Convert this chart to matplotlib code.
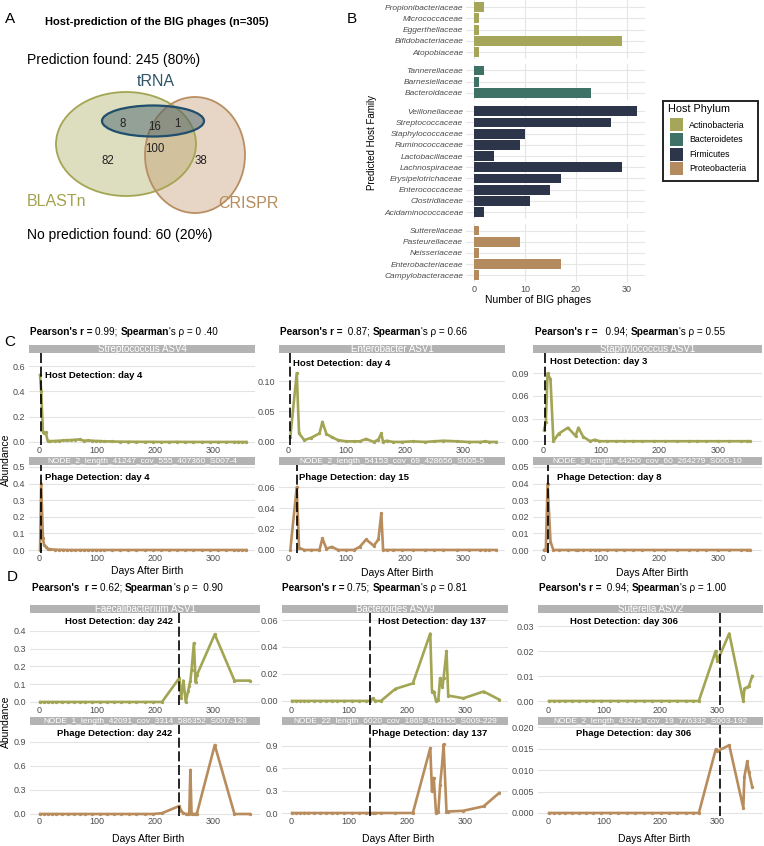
import matplotlib
matplotlib.use('Agg')
import matplotlib.pyplot as plt
from matplotlib.patches import Ellipse, Rectangle

plt.rcParams['font.family'] = ['Liberation Sans', 'DejaVu Sans']

# ---------------- data: panel A ----------------
n_total = 305
n_found = 245
n_not_found = 60
venn_blast_only = 82
venn_crispr_only = 38
venn_blast_crispr = 100
venn_trna_blast = 8
venn_trna_all = 16
venn_trna_crispr = 1

# ---------------- data: panel B ----------------
phyla = ['Actinobacteria', 'Bacteroidetes', 'Firmicutes', 'Proteobacteria']
phylum_colors = ['#a5a65a', '#3e7267', '#2c3549', '#b48b5e']
fam_actino = ['Propionibacteriaceae', 'Micrococcaceae', 'Eggerthellaceae', 'Bifidobacteriaceae', 'Atopobiaceae']
cnt_actino = [2, 1, 1, 29, 1]
fam_bacteroid = ['Tannerellaceae', 'Barnesiellaceae', 'Bacteroidaceae']
cnt_bacteroid = [2, 1, 23]
fam_firm = ['Veillonellaceae', 'Streptococcaceae', 'Staphylococcaceae', 'Ruminococcaceae', 'Lactobacillaceae',
            'Lachnospiraceae', 'Erysipelotrichaceae', 'Enterococcaceae', 'Clostridiaceae', 'Acidaminococcaceae']
cnt_firm = [32, 27, 10, 9, 4, 29, 17, 15, 11, 2]
fam_proteo = ['Sutterellaceae', 'Pasteurellaceae', 'Neisseriaceae', 'Enterobacteriaceae', 'Campylobacteraceae']
cnt_proteo = [1, 9, 1, 17, 1]

# ---------------- data: panels C / D ----------------
c1_host_name = 'Streptococcus ASV4'
c1_phage_name = 'NODE_2_length_41247_cov_555_407360_S007-4'
c1_days = [2, 4, 7, 9, 12, 15, 20, 28, 35, 42, 49, 56, 63, 70, 77, 84, 91, 98, 105, 112,
           126, 140, 154, 168, 182, 196, 210, 224, 238, 252, 266, 280, 294, 308, 322, 336, 343, 350, 357]
c1_host = [0.53, 0.40, 0.08, 0.07, 0.075, 0.010, 0.006, 0.008, 0.010, 0.012, 0.014, 0.015, 0.018, 0.020, 0.010,
           0.012, 0.010, 0.008, 0.007, 0.005, 0.004, 0.002, 0.002, 0.001, 0.001, 0.001, 0.0, 0.0, 0.001, 0.0,
           0.0, 0.0, 0.0, 0.0, 0.0, 0.0, 0.0, 0.0, 0.0]
c1_phage = [0.0, 0.40, 0.07, 0.03, 0.02, 0.008, 0.004, 0.002, 0.001, 0.001, 0.0, 0.0, 0.0, 0.0, 0.0,
            0.0, 0.0, 0.0, 0.0, 0.0, 0.0, 0.0, 0.0, 0.0, 0.0, 0.0, 0.0, 0.0, 0.0, 0.0,
            0.0, 0.0, 0.0, 0.0, 0.0, 0.0, 0.0, 0.0, 0.0]
c1_stats = ("0.99", "0 .40")
c1_host_day, c1_phage_day = 4, 4

c2_host_name = 'Enterobacter ASV1'
c2_phage_name = 'NODE_2_length_54153_cov_69_428656_S005-5'
c2_days = [4, 15, 19, 28, 40, 54, 59, 66, 75, 86, 100, 113, 123, 134, 147, 155, 160, 163, 169, 180,
           195, 214, 235, 250, 266, 290, 310, 330, 338, 345, 357]
c2_host = [0.008, 0.113, 0.014, 0.003, 0.007, 0.014, 0.033, 0.013, 0.008, 0.003, 0.001, 0.001, 0.001, 0.005, 0.0,
           0.004, 0.014, 0.0, 0.002, 0.0, 0.0, 0.001, 0.0, 0.001, 0.002, 0.001, 0.0, 0.0, 0.001, 0.0, 0.0]
c2_phage = [0.0, 0.060, 0.002, 0.0, 0.0, 0.0, 0.011, 0.001, 0.003, 0.0, 0.0, 0.0, 0.003, 0.010, 0.004,
            0.010, 0.035, 0.0, 0.0, 0.0, 0.0, 0.0, 0.0, 0.0, 0.0, 0.0, 0.0, 0.0, 0.0, 0.0, 0.0]
c2_stats = (" 0.87", "0.66")
c2_host_day, c2_phage_day = 4, 15

c3_host_name = 'Staphylococcus ASV1'
c3_phage_name = 'NODE_3_length_44250_cov_60_264279_S006-10'
c3_days = [2, 5, 8, 13, 18, 27, 43, 56, 61, 69, 81, 89, 97, 110, 125, 140, 155, 170, 190, 210,
           230, 250, 265, 280, 300, 320, 340, 350, 355]
c3_host = [0.015, 0.026, 0.090, 0.082, 0.0, 0.010, 0.018, 0.007, 0.018, 0.006, 0.0, 0.002, 0.0, 0.0, 0.0,
           0.0, 0.0, 0.0, 0.0, 0.0, 0.0, 0.0, 0.0, 0.0, 0.0, 0.0, 0.0, 0.0, 0.0]
c3_phage = [0.0, 0.0, 0.040, 0.005, 0.0, 0.0, 0.0, 0.0, 0.0, 0.0, 0.0, 0.0, 0.0, 0.0, 0.0,
            0.0, 0.0, 0.0, 0.0, 0.0, 0.0, 0.0, 0.0, 0.0, 0.0, 0.0, 0.0, 0.0, 0.0]
c3_stats = ("  0.94", "0.55")
c3_host_day, c3_phage_day = 3, 8

d1_host_name = 'Faecalibacterium ASV1'
d1_phage_name = 'NODE_1_length_42091_cov_3314_586352_S007-128'
d1_days = [2, 8, 15, 22, 30, 40, 50, 60, 70, 80, 92, 105, 118, 130, 142, 155, 168, 182, 196, 212,
           242, 245, 249, 253, 257, 259, 261, 263, 267, 270, 272, 303, 337, 363]
d1_host = [0.0, 0.0, 0.0, 0.0, 0.0, 0.0, 0.0, 0.0, 0.0, 0.0, 0.0, 0.0, 0.0, 0.0, 0.0, 0.0, 0.0, 0.0, 0.0, 0.0,
           0.135, 0.02, 0.12, 0.0, 0.06, 0.09, 0.12, 0.18, 0.33, 0.11, 0.15, 0.38, 0.12, 0.12]
d1_phage = [0.0, 0.0, 0.0, 0.0, 0.0, 0.0, 0.0, 0.0, 0.0, 0.0, 0.0, 0.0, 0.0, 0.0, 0.0, 0.0, 0.0, 0.0, 0.0, 0.01,
            0.10, 0.04, 0.01, 0.0, 0.0, 0.0, 0.55, 0.0, 0.0, 0.0, 0.0, 0.86, 0.0, 0.0]
d1_stats = ("0.62", " 0.90")
d1_host_day, d1_phage_day = 242, 242

d2_host_name = 'Bacteroides ASV9'
d2_phage_name = 'NODE_22_length_6020_cov_1869_946155_S009-229'
d2_days = [2, 8, 15, 22, 30, 40, 50, 60, 70, 80, 92, 105, 118, 130,
           137, 141, 145, 155, 180, 210, 240, 243, 246, 250, 254, 257, 261, 263, 268, 271, 297, 332, 359]
d2_host = [0.0, 0.0, 0.0, 0.0, 0.0, 0.0, 0.0, 0.0, 0.0, 0.0, 0.0, 0.0, 0.0, 0.0,
           0.0, 0.002, 0.0, 0.0, 0.009, 0.013, 0.050, 0.007, 0.007, 0.0, 0.001, 0.017, 0.010, 0.017, 0.037,
           0.004, 0.002, 0.007, 0.001]
d2_phage = [0.0, 0.0, 0.0, 0.0, 0.0, 0.0, 0.0, 0.0, 0.0, 0.0, 0.0, 0.0, 0.0, 0.0,
            0.0, 0.0, 0.0, 0.0, 0.0, 0.0, 0.87, 0.29, 0.47, 0.0, 0.02, 0.38, 0.70, 0.92, 0.02,
            0.02, 0.03, 0.09, 0.27]
d2_stats = ("0.75", "0.81")
d2_host_day, d2_phage_day = 137, 137

d3_host_name = 'Suterella ASV2'
d3_phage_name = 'NODE_2_length_43275_cov_19_776332_S003-192'
d3_days = [2, 10, 20, 30, 42, 55, 68, 80, 95, 110, 125, 140, 155, 170, 185, 200, 215, 230, 245, 258, 268,
           298, 301, 322, 347, 349, 354, 357, 363]
d3_host = [0.0, 0.0, 0.0, 0.0, 0.0, 0.0, 0.0, 0.0, 0.0, 0.0, 0.0, 0.0, 0.0, 0.0, 0.0, 0.0, 0.0, 0.0, 0.0, 0.0, 0.0,
           0.020, 0.016, 0.027, 0.0, 0.005, 0.0055, 0.006, 0.010]
d3_phage = [0.0, 0.0, 0.0, 0.0, 0.0, 0.0, 0.0, 0.0, 0.0, 0.0, 0.0, 0.0, 0.0, 0.0, 0.0, 0.0, 0.0, 0.0, 0.0, 0.0, 0.0,
            0.0148, 0.0144, 0.0158, 0.0012, 0.0085, 0.012, 0.0095, 0.006]
d3_stats = (" 0.94", "1.00")
d3_host_day, d3_phage_day = 306, 306

# ---------------- style ----------------
HOST_COLOR = '#a2a553'
PHAGE_COLOR = '#b88c5c'
STRIP = '#b3b3b3'
GRID = '#e3e3e3'
TICKC = '#4d4d4d'

W, H = 764, 846
fig = plt.figure(figsize=(W / 100, H / 100), dpi=100)


def add_ax(l, t, r, b):
    return fig.add_axes([l / W, 1 - b / H, (r - l) / W, (b - t) / H])


# ---------------- panel B (bars) ----------------
groups = [(fam_actino, cnt_actino), (fam_bacteroid, cnt_bacteroid), (fam_firm, cnt_firm), (fam_proteo, cnt_proteo)]
row_h, gap, top = 11.2, 5.0, 0.5
bl, br = 466, 645
for gi, (fams, cnts) in enumerate(groups):
    h = (len(fams) + 0.2) * row_h
    ax = add_ax(bl, top, br, top + h)
    ypos = list(range(len(fams)))
    ax.barh(ypos, cnts, height=0.88, color=phylum_colors[gi], zorder=3)
    ax.set_ylim(len(fams) - 0.4, -0.6)
    ax.set_xlim(-1.6, 33.6)
    ax.set_yticks(ypos)
    ax.set_yticklabels(fams, fontsize=6, fontstyle='italic', color=TICKC)
    ax.set_xticks([0, 10, 20, 30])
    ax.grid(True, color='#e6e6e6', lw=0.8, zorder=0)
    ax.tick_params(length=0, pad=2)
    for sp in ax.spines.values():
        sp.set_visible(False)
    if gi < len(groups) - 1:
        ax.set_xticklabels([])
    else:
        ax.set_xticklabels(['0', '10', '20', '30'], fontsize=6.5, color=TICKC)
    top += h + gap


# ---------------- time series panels ----------------
def ts_panel(l, r, t, b, days, vals, color, ylim, yticks, fmt, det_day, xlim):
    ax = add_ax(l, t, r, b)
    ax.plot(days, vals, color=color, lw=1.9, marker='o', ms=1.4, zorder=3, solid_joinstyle='round')
    ax.axvline(det_day, color='black', lw=1.2, ls=(0, (6, 2.2)), zorder=4)
    ax.set_xlim(*xlim)
    ax.set_ylim(*ylim)
    ax.set_yticks(yticks)
    ax.set_yticklabels([fmt % v for v in yticks])
    ax.set_xticks([0, 100, 200, 300])
    ax.set_xticklabels(['0', '100', '200', '300'])
    ax.tick_params(length=0, labelsize=6.5, labelcolor=TICKC)
    ax.tick_params(axis='x', pad=0.5)
    ax.tick_params(axis='y', pad=3)
    ax.grid(axis='y', color=GRID, lw=0.8, zorder=0)
    for sp in ax.spines.values():
        sp.set_visible(False)
    ax.set_facecolor('none')
    return ax


panels = [
    (29, 255, 353, 445, 465, 553, c1_days, c1_host, c1_phage, (-0.024, 0.704), [0, 0.2, 0.4, 0.6], '%.1f',
     (-0.018, 0.512), [0, 0.1, 0.2, 0.3, 0.4, 0.5], '%.1f', c1_host_day, c1_phage_day, (-17, 372)),
    (279, 505, 353, 445, 465, 553, c2_days, c2_host, c2_phage, (-0.005, 0.146), [0, 0.05, 0.10], '%.2f',
     (-0.0029, 0.081), [0, 0.02, 0.04, 0.06], '%.2f', c2_host_day, c2_phage_day, (-15.4, 372)),
    (533, 762, 353, 445, 465, 553, c3_days, c3_host, c3_phage, (-0.005, 0.117), [0, 0.03, 0.06, 0.09], '%.2f',
     (-0.0018, 0.0512), [0, 0.01, 0.02, 0.03, 0.04, 0.05], '%.2f', c3_host_day, c3_phage_day, (-17, 376)),
    (30, 260, 613, 705, 725, 816, d1_days, d1_host, d1_phage, (-0.017, 0.50), [0, 0.1, 0.2, 0.3, 0.4], '%.1f',
     (-0.025, 1.11), [0, 0.3, 0.6, 0.9], '%.1f', d1_host_day, d1_phage_day, (-15.5, 381)),
    (282, 508, 613, 705, 725, 816, d2_days, d2_host, d2_phage, (-0.003, 0.0652), [0, 0.02, 0.04, 0.06], '%.2f',
     (-0.04, 1.18), [0, 0.3, 0.6, 0.9], '%.1f', d2_host_day, d2_phage_day, (-15.5, 374)),
    (538, 763, 613, 705, 725, 816, d3_days, d3_host, d3_phage, (-0.0016, 0.0352), [0, 0.01, 0.02, 0.03], '%.2f',
     (-0.0007, 0.0205), [0, 0.005, 0.010, 0.015, 0.020], '%.3f', d3_host_day, d3_phage_day, (-17.7, 382)),
]
for p in panels:
    (l, r, ht, hb, pt, pb, days, hv, pv, ylh, yth, fh, ylp, ytp, fp, hd, pd, xl) = p
    ts_panel(l, r, ht, hb, days, hv, HOST_COLOR, ylh, yth, fh, hd, xl)
    ts_panel(l, r, pt, pb, days, pv, PHAGE_COLOR, ylp, ytp, fp, pd, xl)

# ---------------- overlay (text, venn, legend, strips) ----------------
ov = fig.add_axes([0, 0, 1, 1])
ov.set_xlim(0, W)
ov.set_ylim(H, 0)
ov.axis('off')
ov.patch.set_alpha(0)
fig.canvas.draw()
renderer = fig.canvas.get_renderer()


def text_width(s, size, weight):
    t1 = ov.text(0, 0, s + '|', fontsize=size, fontweight=weight)
    t2 = ov.text(0, 0, '|', fontsize=size, fontweight=weight)
    w = t1.get_window_extent(renderer).width - t2.get_window_extent(renderer).width
    t1.remove()
    t2.remove()
    return w


def rich(x, y, parts, size):
    cur = x
    for s, w in parts:
        ov.text(cur, y, s, fontsize=size, fontweight=w, ha='left', va='center')
        cur += text_width(s, size, w)


# panel letters
for letter, (x, y) in zip('ABCD', [(10, 19), (352, 19), (10, 342), (12, 577)]):
    ov.text(x, y, letter, fontsize=11, ha='center', va='center')

# ---- panel A: venn ----
ov.text(157, 22, f'Host-prediction of the BIG phages (n={n_total})', fontsize=8, fontweight='bold',
        ha='center', va='center')
ov.text(27, 60, f'Prediction found: {n_found} ({round(100 * n_found / n_total)}%)', fontsize=10,
        ha='left', va='center')
ov.text(27, 235, f'No prediction found: {n_not_found} ({round(100 * n_not_found / n_total)}%)', fontsize=10,
        ha='left', va='center')
ov.add_patch(Ellipse((126, 144), 140, 104, facecolor='#a6a658', alpha=0.38, edgecolor='none'))
ov.add_patch(Ellipse((195, 155), 100, 116, facecolor='#c09468', alpha=0.38, edgecolor='none'))
ov.add_patch(Ellipse((126, 144), 140, 104, facecolor='none', edgecolor='#a4a552', lw=1.3))
ov.add_patch(Ellipse((195, 155), 100, 116, facecolor='none', edgecolor='#b88e62', lw=1.3))
ov.add_patch(Ellipse((153, 121), 102, 31, facecolor='#3b5866', alpha=0.45, edgecolor='none'))
ov.add_patch(Ellipse((153, 121), 102, 31, facecolor='none', edgecolor='#1f4f6c', lw=1.6))
ov.text(156, 82, 'tRNA', fontsize=11.5, color='#2e5568', ha='center', va='center')
ov.text(57, 202, 'BLASTn', fontsize=11.5, color='#a3a34f', ha='center', va='center')
ov.text(248, 204, 'CRISPR', fontsize=11.5, color='#b88c5c', ha='center', va='center')
for val, (x, y) in [(venn_trna_blast, (123, 124)), (venn_trna_all, (155, 127)), (venn_trna_crispr, (177, 124)),
                    (venn_blast_crispr, (155, 149)), (venn_blast_only, (108, 161)), (venn_crispr_only, (201, 161))]:
    ov.text(x, y, str(val), fontsize=8.3, color='#222222', ha='center', va='center')

# ---- panel B labels + legend ----
ov.text(372, 142, 'Predicted Host Family', fontsize=7, rotation=90, ha='center', va='center')
ov.text(538, 300, 'Number of BIG phages', fontsize=7.5, ha='center', va='center')
ov.add_patch(Rectangle((663, 101), 95, 80, facecolor='white', edgecolor='#222222', lw=1.4))
ov.text(668, 109, 'Host Phylum', fontsize=7.8, ha='left', va='center')
for i, (ph, col) in enumerate(zip(phyla, phylum_colors)):
    yc = 125 + i * 14.6
    ov.add_patch(Rectangle((670, yc - 6.5), 13, 13, facecolor=col, edgecolor='none'))
    ov.text(689, yc, ph, fontsize=6.3, ha='left', va='center')

# ---- strips, stats, detection labels ----
strip_specs = [
    (29, 255, 345, 353, c1_host_name, 457, 465, c1_phage_name),
    (279, 505, 345, 353, c2_host_name, 457, 465, c2_phage_name),
    (533, 762, 345, 353, c3_host_name, 457, 465, c3_phage_name),
    (30, 260, 605, 613, d1_host_name, 717, 725, d1_phage_name),
    (282, 508, 605, 613, d2_host_name, 717, 725, d2_phage_name),
    (538, 763, 605, 613, d3_host_name, 717, 725, d3_phage_name),
]
for (l, r, t1, b1, n1, t2, b2, n2) in strip_specs:
    ov.add_patch(Rectangle((l, t1), r - l, b1 - t1, facecolor=STRIP, edgecolor='none'))
    ov.text((l + r) / 2, (t1 + b1) / 2 + 0.5, n1, fontsize=7, color='white', ha='center', va='center')
    ov.add_patch(Rectangle((l, t2), r - l, b2 - t2, facecolor=STRIP, edgecolor='none'))
    ov.text((l + r) / 2, (t2 + b2) / 2 + 0.5, n2, fontsize=6, color='white', ha='center', va='center')

stats_specs = [((30, 332), c1_stats, ''), ((280, 332), c2_stats, ''), ((535, 332), c3_stats, ''),
               ((32, 588), d1_stats, ' '), ((282, 588), d2_stats, ''), ((539, 588), d3_stats, '')]
for (x, y), (pr, sp), extra in stats_specs:
    rich(x, y, [("Pearson's" + extra + " r = ", 'bold'), (pr + "; ", 'normal'), ("Spearman", 'bold'),
                ("'s \u03c1 = " + sp, 'normal')], 7.2)

det_specs = [
    (f'Host Detection: day {c1_host_day}', 45, 376, 'left'),
    (f'Host Detection: day {c2_host_day}', 293, 364, 'left'),
    (f'Host Detection: day {c3_host_day}', 550, 362, 'left'),
    (f'Phage Detection: day {c1_phage_day}', 45, 477, 'left'),
    (f'Phage Detection: day {c2_phage_day}', 299, 477, 'left'),
    (f'Phage Detection: day {c3_phage_day}', 557, 477, 'left'),
    (f'Host Detection: day {d1_host_day}', 173, 622, 'right'),
    (f'Host Detection: day {d2_host_day}', 378, 622, 'left'),
    (f'Host Detection: day {d3_host_day}', 678, 621, 'right'),
    (f'Phage Detection: day {d1_phage_day}', 172, 734, 'right'),
    (f'Phage Detection: day {d2_phage_day}', 372, 734, 'left'),
    (f'Phage Detection: day {d3_phage_day}', 691, 733, 'right'),
]
for s, x, y, ha in det_specs:
    ov.text(x, y, s, fontsize=6.8, fontweight='bold', ha=ha, va='center')

for y in (460, 722):
    ov.text(6, y, 'Abundance', fontsize=7.5, rotation=90, ha='center', va='center')
for x, y in [(147, 571), (397, 573), (652, 573), (148, 839), (398, 839), (654, 839)]:
    ov.text(x, y, 'Days After Birth', fontsize=7.5, ha='center', va='center')

fig.savefig('out.png', dpi=100)
